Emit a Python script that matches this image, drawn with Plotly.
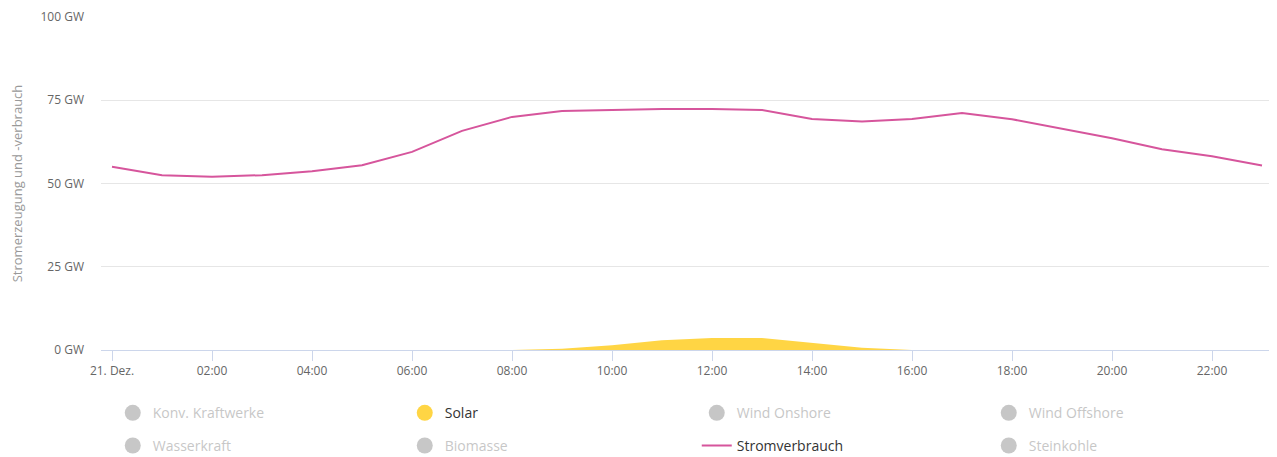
import plotly.graph_objects as go

hours = list(range(24))
verbrauch = [55.0, 52.5, 52.0, 52.5, 53.7, 55.5, 59.5, 65.8, 70.0, 71.8, 72.1, 72.4,
             72.4, 72.1, 69.4, 68.6, 69.4, 71.2, 69.3, 66.4, 63.6, 60.3, 58.2, 55.4]
solar = [0, 0, 0, 0, 0, 0, 0, 0, 0, 0.4, 1.4, 2.9, 3.6, 3.6, 2.1, 0.7, 0, 0, 0, 0, 0, 0, 0, 0]
tick_hours = [0, 2, 4, 6, 8, 10, 12, 14, 16, 18, 20, 22]
tick_labels = ["21. Dez.", "02:00", "04:00", "06:00", "08:00", "10:00", "12:00",
               "14:00", "16:00", "18:00", "20:00", "22:00"]
y_ticks = [0, 25, 50, 75, 100]
y_labels = [f"{v} GW" for v in y_ticks]
row1 = ["Konv. Kraftwerke", "Solar", "Wind Onshore", "Wind Offshore"]
row2 = ["Wasserkraft", "Biomasse", "Stromverbrauch", "Steinkohle"]

PINK = "#d6559c"
YELLOW = "#ffd544"
HID = "#8f8f8f"
FONT = "Open Sans"

fig = go.Figure()

fig.add_trace(go.Scatter(x=hours, y=solar, mode="lines", fill="tozeroy",
                         line=dict(color=YELLOW, width=0), fillcolor=YELLOW,
                         showlegend=False, legendgroup="Solar", hoverinfo="x+y"))
fig.add_trace(go.Scatter(x=hours, y=verbrauch, mode="lines",
                         line=dict(color=PINK, width=2), showlegend=False,
                         legendgroup="Stromverbrauch"))

def legend_entry(name, legend):
    if name == "Solar":
        fig.add_trace(go.Scatter(x=[None], y=[None], mode="markers", name="<span style='color:#333333'>Solar</span>",
                                 marker=dict(color=YELLOW, size=16, symbol="circle"),
                                 legendgroup="Solar", legend=legend))
    elif name == "Stromverbrauch":
        fig.add_trace(go.Scatter(x=[None], y=[None], mode="lines", name="<span style='color:#333333'>Stromverbrauch</span>",
                                 line=dict(color=PINK, width=2),
                                 legendgroup="Stromverbrauch", legend=legend))
    else:
        fig.add_trace(go.Scatter(x=[None], y=[None], mode="markers",
                                 name=f"<span style='color:{HID}'>{name}</span>",
                                 marker=dict(color=HID, size=16, symbol="circle"),
                                 visible="legendonly", legend=legend))

for n in row1:
    legend_entry(n, "legend")
for n in row2:
    legend_entry(n, "legend2")

leg_common = dict(orientation="h", xanchor="left", yanchor="middle",
                  entrywidth=247, entrywidthmode="pixels",
                  font=dict(family=FONT, size=14, color="#333333"),
                  bgcolor="rgba(0,0,0,0)", itemclick="toggle")

# page body has an 8px margin, so the figure is sized/offset to compensate
fig.update_layout(
    width=1269, height=449,
    margin=dict(l=93, r=0, t=9, b=107, autoexpand=False),
    paper_bgcolor="white", plot_bgcolor="white",
    font=dict(family=FONT, size=12, color="#666666"),
    xaxis=dict(range=[-0.22, 23.3], tickvals=tick_hours, ticktext=tick_labels,
               showgrid=False, showline=True, linecolor="#ccd6eb", linewidth=1,
               ticks="outside", ticklen=10, tickcolor="#ccd6eb",
               tickfont=dict(family=FONT, size=12, color="#666666"), zeroline=False),
    yaxis=dict(range=[0, 100], tickvals=y_ticks, ticktext=y_labels,
               showgrid=True, gridcolor="#e6e6e6", zeroline=False,
               ticks="", ticklabelstandoff=16,
               tickfont=dict(family=FONT, size=12, color="#666666"),
               title=dict(text="Stromerzeugung und -verbrauch", standoff=17,
                          font=dict(family=FONT, size=13, color="#999999"))),
    legend=dict(x=0.01, y=-0.19, **leg_common),
    legend2=dict(x=0.01, y=-0.288, **leg_common),
    hovermode="x",
)

fig.write_html("out.html")
